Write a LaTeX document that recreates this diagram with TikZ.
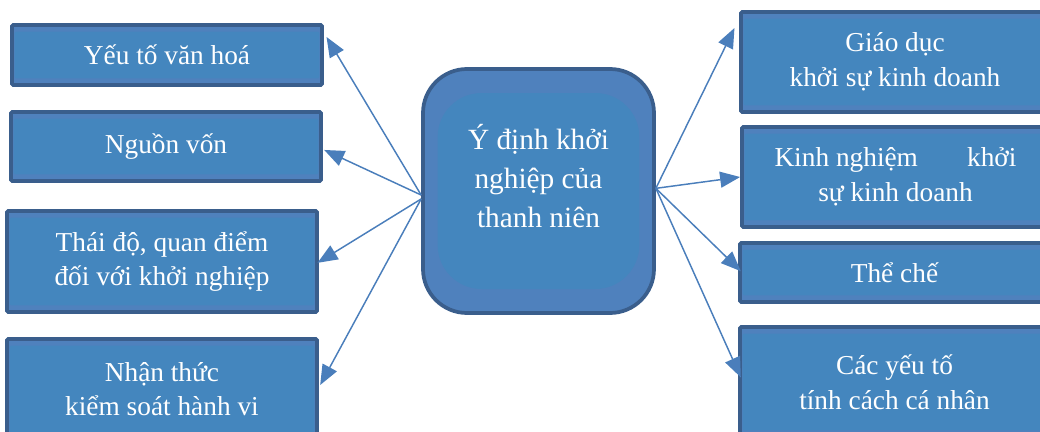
\documentclass[tikz,border=0pt]{standalone}
\usepackage{fontspec}
\setmainfont{Liberation Serif}
\usetikzlibrary{arrows.meta}
\definecolor{bandblue}{HTML}{4F81BD}
\definecolor{innerblue}{HTML}{4486BE}
\definecolor{edgeblue}{HTML}{3A5E8C}
\definecolor{arrowblue}{HTML}{4A7EBB}
\tikzset{
  boxbase/.style={draw=edgeblue, line width=2.8pt, fill=bandblue, text=white, align=center,
    font=\fontsize{20.5}{26}\selectfont, inner sep=0pt},
  rectbox/.style={boxbase, rectangle, rounded corners=1pt,
    path picture={\fill[innerblue] ([xshift=2pt,yshift=-5pt]path picture bounding box.north west)
      rectangle ([xshift=-2pt,yshift=5pt]path picture bounding box.south east);}},
  centerbox/.style={boxbase, rectangle, rounded corners=33pt,
    path picture={\fill[innerblue] ([xshift=11pt,yshift=-18pt]path picture bounding box.north west)
      rectangle ([xshift=-11pt,yshift=18pt]path picture bounding box.south east);}},
  centertext/.style={text=white, align=center, font=\fontsize{22}{29}\selectfont, inner sep=0pt},
  conn/.style={draw=arrowblue, line width=1.1pt, -{Triangle[length=15pt,width=12pt]}, arrowblue}
}
\begin{document}
\begin{tikzpicture}[x=0.75pt,y=-0.75pt]
\useasboundingbox (0,0) rectangle (1040,432);
% left boxes
\node[rectbox, minimum width=232.5pt, minimum height=45pt] (b1) at (167,55) {Yếu tố văn hoá};
\node[rectbox, minimum width=232.5pt, minimum height=51.75pt] (b2) at (166,146.5) {Nguồn vốn};
\node[rectbox, minimum width=232.5pt, minimum height=75.75pt] (b3) at (162,261.5) {Thái độ, quan điểm\\đối với khởi nghiệp};
\node[rectbox, minimum width=232.5pt, minimum height=75pt] (b4) at (162,389) {Nhận thức\\kiểm soát hành vi};
% right boxes
\node[rectbox, minimum width=231pt, minimum height=75pt] (b5) at (895,62) {Giáo dục\\khởi sự kinh doanh};
\node[rectbox, minimum width=230.25pt, minimum height=75pt] (b6) at (895.5,177) {\makebox[181.5pt]{Kinh nghiệm\hfill khởi}\\sự kinh doanh};
\node[rectbox, minimum width=231.75pt, minimum height=44.25pt] (b7) at (894.5,272.5) {Thể chế};
\node[rectbox, minimum width=231.75pt, minimum height=82.5pt] (b8) at (894.5,382) {Các yếu tố\\tính cách cá nhân};
% center
\node[centerbox, minimum width=173.25pt, minimum height=183pt] (c) at (538.5,191) {};
\node[centertext] (ctext) at (538.5,176) {Ý định khởi\\nghiệp của\\thanh niên};
% connectors
\draw[conn] ([yshift=-3pt]c.west) -- ([xshift=2pt,yshift=13.5pt]b1.east);
\draw[conn] ([yshift=-3pt]c.west) -- ([xshift=1pt,yshift=-2.6pt]b2.east);
\draw[conn] ([yshift=-6pt]c.west) -- ([xshift=-1pt,yshift=-1pt]b3.east);
\draw[conn] ([yshift=-6pt]c.west) -- ([xshift=1pt,yshift=3pt]b4.east);
\draw[conn] ([yshift=2pt]c.east) -- ([xshift=-3.5pt,yshift=25.5pt]b5.west);
\draw[conn] ([yshift=2pt]c.east) -- (b6.west);
\draw[conn] ([yshift=2pt]c.east) -- ([xshift=2pt,yshift=1pt]b7.west);
\draw[conn] ([yshift=2pt]c.east) -- ([xshift=2pt,yshift=3.5pt]b8.west);
\end{tikzpicture}
\end{document}
